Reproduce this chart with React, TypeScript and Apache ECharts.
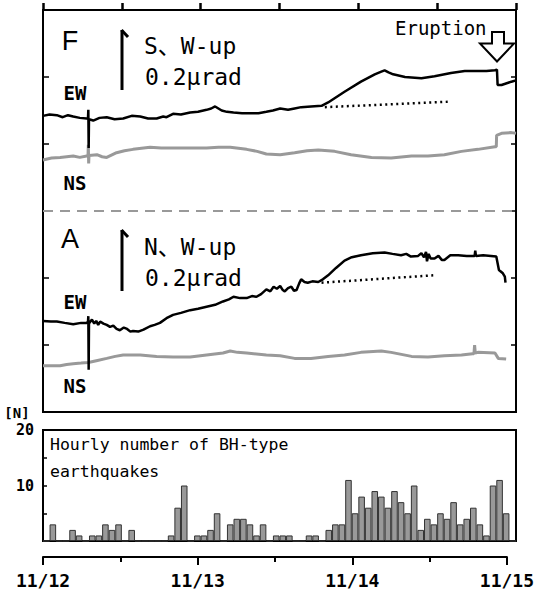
import React, { useEffect, useRef } from "react";
import * as echarts from "echarts";

// ---- data ----
// time in hours since 11/12 00:00 ; tilt in plot units (1 tick = 10 units)
const timeLabels = ["11/12", "11/13", "11/14", "11/15"];

const fEW: number[][] = [
  [0, 44.2], [1, 44.4], [2.1, 44.3], [3, 44.0], [3.8, 44.3], [4.6, 44.1], [5.6, 43.9], [6.65, 43.8],
  [6.85, 43.9], [6.9, 45.1], [6.95, 39.4], [7.0, 43.7], [7.65, 43.5], [8.6, 43.9], [9.7, 44.0],
  [10.9, 43.7], [12.2, 43.8], [13.5, 44.2], [14.8, 44.1], [16.0, 43.8], [17.3, 43.8], [18.3, 44.1],
  [18.8, 44.0], [19.8, 44.5], [21.0, 44.4], [22.4, 44.7], [23.6, 44.8], [24.9, 45.1], [25.6, 45.3],
  [26.2, 45.6], [26.7, 45.3], [27.2, 45.0], [28.0, 44.8], [29.0, 44.7], [30.3, 44.6], [31.5, 44.6],
  [32.8, 44.6], [34.0, 44.8], [35.0, 45.0], [36.1, 45.3], [37.3, 45.1], [38.3, 45.3], [39.3, 45.5],
  [40.8, 45.6], [42.4, 45.7], [43.4, 46.2], [45.9, 47.8], [48.4, 49.3], [50.5, 50.4], [51.5, 50.8],
  [52.0, 51.0], [52.6, 50.7], [53.3, 50.4], [55.1, 50.0], [57.6, 49.8], [59.6, 50.1], [62.1, 50.6],
  [64.2, 50.9], [66.2, 50.9], [67.5, 50.9], [68.8, 51.0], [69.1, 51.1], [69.2, 48.8], [69.8, 48.8],
  [71.3, 49.3], [72.0, 49.5],
];

const fNS: number[][] = [
  [0, 37.6], [1.3, 37.9], [2.6, 38.0], [3.6, 38.1], [4.6, 38.2], [5.6, 38.0], [6.65, 38.2],
  [6.85, 38.2], [6.9, 39.9], [6.95, 37.1], [7.0, 38.3], [8.2, 38.4], [9.0, 38.1], [9.7, 38.0],
  [11.2, 38.7], [12.4, 39.0], [13.7, 39.2], [16.3, 39.5], [18.0, 39.4], [19.8, 39.4], [22.4, 39.4],
  [24.9, 39.4], [26.7, 39.5], [28.5, 39.5], [31.0, 39.2], [32.6, 38.9], [34.0, 38.5], [36.1, 38.4],
  [38.3, 38.7], [40.2, 39.0], [41.9, 39.1], [44.4, 38.9], [46.9, 38.4], [50.0, 38.0], [53.0, 37.9],
  [56.1, 38.2], [58.6, 38.2], [61.1, 38.4], [63.7, 38.9], [66.2, 39.2], [68.8, 39.6], [69.0, 39.6],
  [69.05, 41.3], [69.8, 41.6], [71.3, 41.7], [72.0, 41.6],
];

const fTrend: number[][] = [
  [42.9, 45.5], [61.6, 46.3],
];

const aEW: number[][] = [
  [0, 13.6], [1.2, 13.5], [2.1, 13.5], [3.3, 13.3], [4.6, 13.1], [5.8, 13.3], [6.65, 13.3],
  [6.85, 13.5], [6.9, 14.3], [6.95, 6.3], [7.0, 13.2], [7.45, 13.8], [7.8, 13.2], [8.1, 13.6],
  [8.4, 13.0], [8.7, 13.5], [9.2, 13.2], [9.7, 13.0], [10.2, 12.7], [10.7, 12.9], [11.2, 12.4],
  [11.7, 12.2], [12.3, 12.6], [12.8, 12.4], [13.3, 12.0], [13.7, 12.1], [14.5, 12.0], [15.3, 12.3],
  [16.3, 12.8], [17.0, 13.0], [17.8, 13.3], [18.8, 14.0], [19.8, 14.5], [21.0, 14.8], [22.4, 15.2],
  [23.6, 15.4], [24.9, 15.7], [26.2, 16.0], [27.4, 16.5], [28.3, 16.8], [29.0, 17.2], [30.0, 17.0],
  [31.0, 17.0], [31.8, 17.3], [32.5, 17.2], [33.2, 17.6], [34.0, 18.3], [34.6, 18.0], [35.1, 18.7],
  [35.6, 18.4], [36.1, 18.8], [36.5, 18.2], [36.8, 18.0], [37.3, 18.5], [37.8, 18.7], [38.2, 18.1],
  [38.6, 18.2], [39.0, 19.2], [39.3, 19.8], [39.8, 19.4], [40.3, 19.3], [41.0, 19.5], [41.9, 19.4],
  [42.6, 19.8], [43.4, 20.4], [44.6, 21.5], [45.9, 22.6], [47.0, 23.1], [48.4, 23.4], [50.2, 23.7],
  [52.0, 23.8], [53.2, 23.6], [54.5, 23.4], [55.3, 23.6], [56.0, 23.2], [57.1, 23.3], [57.6, 23.7],
  [58.0, 23.1], [58.3, 23.9], [58.45, 22.5], [58.7, 23.6], [59.0, 22.9], [59.6, 22.9], [60.2, 23.3],
  [60.7, 22.7], [61.1, 22.7], [62.0, 23.4], [63.2, 23.4], [64.5, 23.3], [65.7, 23.3], [65.8, 24.1],
  [65.9, 23.3], [67.0, 23.4], [68.2, 23.3], [69.0, 23.2], [69.2, 22.2], [69.4, 21.2], [70.0, 20.7],
  [70.3, 20.2], [70.4, 19.3],
];

const aNS: number[][] = [
  [0, 6.9], [1.3, 6.9], [2.6, 6.9], [3.6, 7.1], [4.6, 7.2], [5.8, 7.3], [6.9, 7.4], [8.3, 7.7],
  [9.7, 8.0], [11.0, 8.3], [12.2, 8.5], [14.8, 8.5], [17.3, 8.3], [19.8, 8.2], [22.4, 8.2],
  [24.9, 8.5], [27.4, 8.8], [28.5, 9.1], [29.6, 8.9], [31.0, 8.8], [34.0, 8.5], [36.1, 8.4],
  [38.3, 8.0], [40.8, 8.0], [43.4, 8.3], [45.9, 8.5], [48.4, 8.9], [51.5, 9.1], [53.0, 8.9],
  [56.1, 8.3], [58.6, 8.2], [61.1, 8.4], [63.7, 8.5], [65.4, 8.7], [65.6, 8.7], [65.7, 10.0],
  [65.8, 8.8], [66.2, 8.9], [68.8, 8.8], [69.3, 8.0], [70.5, 7.9],
];

const aTrend: number[][] = [
  [42.4, 19.3], [59.4, 20.4],
];

// hourly number of BH-type earthquakes, hour 0..71
const bhCounts: number[] = [
  0, 3, 0, 0, 2, 1, 0, 1, 1, 3, 2, 3, 0, 2, 0, 0, 0, 0, 0, 1, 6, 10, 0, 1,
  1, 2, 5, 0, 3, 4, 4, 3, 1, 3, 0, 1, 1, 1, 0, 0, 1, 1, 0, 2, 3, 3, 11, 5,
  8, 6, 9, 8, 6, 9, 7, 5, 10, 2, 4, 3, 5, 4, 7, 3, 4, 6, 3, 1, 10, 11, 5, 0,
];
const bhHours: string[] = bhCounts.map((_, i) => String(i));

const MONO = "'DejaVu Sans Mono', 'Noto Sans CJK JP', monospace";
const SANS = "'Liberation Sans', Arial, sans-serif";

function txt(text: string, x: number, y: number, size: number, opts: any = {}) {
  return {
    type: "text",
    x,
    y,
    z: 100,
    style: {
      text,
      fill: "#000",
      fontSize: size,
      fontFamily: opts.family || MONO,
      fontWeight: opts.weight || "normal",
      align: opts.align || "left",
      textAlign: opts.align || "left",
      verticalAlign: "middle",
      textVerticalAlign: "middle",
    },
  };
}

function scaleArrow(x: number, top: number, bottom: number) {
  return [
    { type: "line", z: 100, shape: { x1: x, y1: top, x2: x, y2: bottom }, style: { stroke: "#000", lineWidth: 3 } },
    { type: "line", z: 100, shape: { x1: x - 0.5, y1: top, x2: x + 6, y2: top + 7 }, style: { stroke: "#000", lineWidth: 3 } },
  ];
}

export default function App() {
  const ref = useRef<HTMLDivElement>(null);
  useEffect(() => {
    if (!ref.current) return;
    const chart = echarts.init(ref.current, null, { renderer: "svg" });
    const tickIn = (len: number) => ({ show: true, inside: true, length: len, lineStyle: { color: "#000", width: 1.5 } });
    const option: any = {
      animation: false,
      backgroundColor: "#fff",
      grid: [
        { left: 43, top: 10, width: 473, height: 402, show: true, borderColor: "#000", borderWidth: 2, backgroundColor: "transparent" },
        { left: 43, top: 430, width: 473, height: 111, show: true, borderColor: "#000", borderWidth: 2, backgroundColor: "transparent" },
        { left: 43, top: 555, width: 473, height: 2 },
        { left: 43, top: 2, width: 473, height: 8 },
      ],
      xAxis: [
        {
          gridIndex: 0, type: "value", min: 0, max: 72, interval: 12, show: false,
        },
        {
          gridIndex: 1, type: "category", data: bhHours, boundaryGap: true,
          axisLine: { show: false }, axisLabel: { show: false }, axisTick: { show: false }, splitLine: { show: false },
        },
        {
          gridIndex: 2, type: "value", min: 0, max: 72, interval: 24,
          axisLine: { show: true, onZero: false, lineStyle: { color: "#000", width: 2 } },
          axisTick: { show: true, length: 8, lineStyle: { color: "#000", width: 2 } },
          minorTick: { show: true, splitNumber: 2, length: 5, lineStyle: { color: "#000", width: 2 } },
          splitLine: { show: false },
          axisLabel: {
            margin: 14, fontFamily: MONO, fontWeight: "bold", fontSize: 18, color: "#000",
            formatter: (v: number) => timeLabels[Math.round(v / 24)] || "",
          },
        },
        {
          gridIndex: 3, type: "value", min: 0, max: 72, interval: 12,
          axisLine: { show: true, onZero: false, lineStyle: { color: "#000", width: 2 } },
          axisTick: { show: true, inside: true, length: 7, lineStyle: { color: "#000", width: 2.5 } },
          axisLabel: { show: false }, splitLine: { show: false },
        },
      ],
      yAxis: [
        {
          gridIndex: 0, type: "value", min: 0, max: 60, interval: 10, position: "left",
          axisLine: { show: false, onZero: false }, axisLabel: { show: false }, splitLine: { show: false }, axisTick: tickIn(6),
        },
        {
          gridIndex: 0, type: "value", min: 0, max: 60, interval: 10, position: "right",
          axisLine: { show: false, onZero: false }, axisLabel: { show: false }, splitLine: { show: false }, axisTick: tickIn(5),
        },
        {
          gridIndex: 1, type: "value", min: 0, max: 20, interval: 5,
          axisLine: { show: false, onZero: false }, splitLine: { show: false }, axisTick: tickIn(4),
          axisLabel: {
            margin: 9, fontFamily: MONO, fontWeight: "bold", fontSize: 15, color: "#000",
            formatter: (v: number) => (v === 10 || v === 20 ? String(v) : ""),
          },
        },
        { gridIndex: 2, type: "value", show: false },
        { gridIndex: 3, type: "value", min: 0, max: 1, show: false },
      ],
      series: [
        {
          type: "line", xAxisIndex: 0, yAxisIndex: 0, data: fNS, showSymbol: false,
          lineStyle: { color: "#999", width: 3 },
          markLine: {
            silent: true, symbol: "none", label: { show: false },
            lineStyle: { color: "#999", type: [10, 7], width: 2 },
            data: [{ yAxis: 30 }],
          },
        },
        { type: "line", xAxisIndex: 0, yAxisIndex: 0, data: fEW, showSymbol: false, lineStyle: { color: "#000", width: 2.5 } },
        { type: "line", xAxisIndex: 0, yAxisIndex: 0, data: fTrend, showSymbol: false, lineStyle: { color: "#000", width: 2.5, type: [2, 3.5] } },
        { type: "line", xAxisIndex: 0, yAxisIndex: 0, data: aNS, showSymbol: false, lineStyle: { color: "#999", width: 3 } },
        { type: "line", xAxisIndex: 0, yAxisIndex: 0, data: aEW, showSymbol: false, lineStyle: { color: "#000", width: 2.5 } },
        { type: "line", xAxisIndex: 0, yAxisIndex: 0, data: aTrend, showSymbol: false, lineStyle: { color: "#000", width: 2.5, type: [2, 3.5] } },
        {
          type: "bar", xAxisIndex: 1, yAxisIndex: 2, data: bhCounts, barCategoryGap: "0%",
          itemStyle: { color: "#999", borderColor: "#333", borderWidth: 1 },
        },
      ],
      graphic: [
        txt("F", 70, 41, 27, { family: SANS, align: "center" }),
        txt("A", 70, 239, 27, { family: SANS, align: "center" }),
        ...scaleArrow(122, 30, 90),
        ...scaleArrow(122, 230, 291),
        txt("S、W-up", 144, 46, 23),
        txt("0.2μrad", 145, 77, 23),
        txt("N、W-up", 144, 247, 23),
        txt("0.2μrad", 145, 278, 23),
        txt("EW", 75, 93, 19, { weight: "bold", align: "center" }),
        txt("NS", 75, 183, 19, { weight: "bold", align: "center" }),
        txt("EW", 75, 302, 19, { weight: "bold", align: "center" }),
        txt("NS", 75, 386, 19, { weight: "bold", align: "center" }),
        txt("Eruption", 395, 28, 19),
        {
          type: "polygon", z: 100,
          shape: { points: [[492, 32], [504, 32], [504, 43.5], [514, 43.5], [497, 61.5], [480, 43.5], [492, 43.5]] },
          style: { fill: "#fff", stroke: "#000", lineWidth: 2 },
        },
        txt("Hourly number of BH-type", 50, 444, 16.5),
        txt("earthquakes", 50, 471, 16.5),
        txt("[N]", 17, 413, 14, { weight: "bold", align: "center" }),
      ],
    };
    chart.setOption(option);
    return () => chart.dispose();
  }, []);
  return (
    <div
      ref={ref}
      style={{ position: "fixed", left: 0, top: 0, width: 537, height: 593, background: "#fff" }}
    />
  );
}
